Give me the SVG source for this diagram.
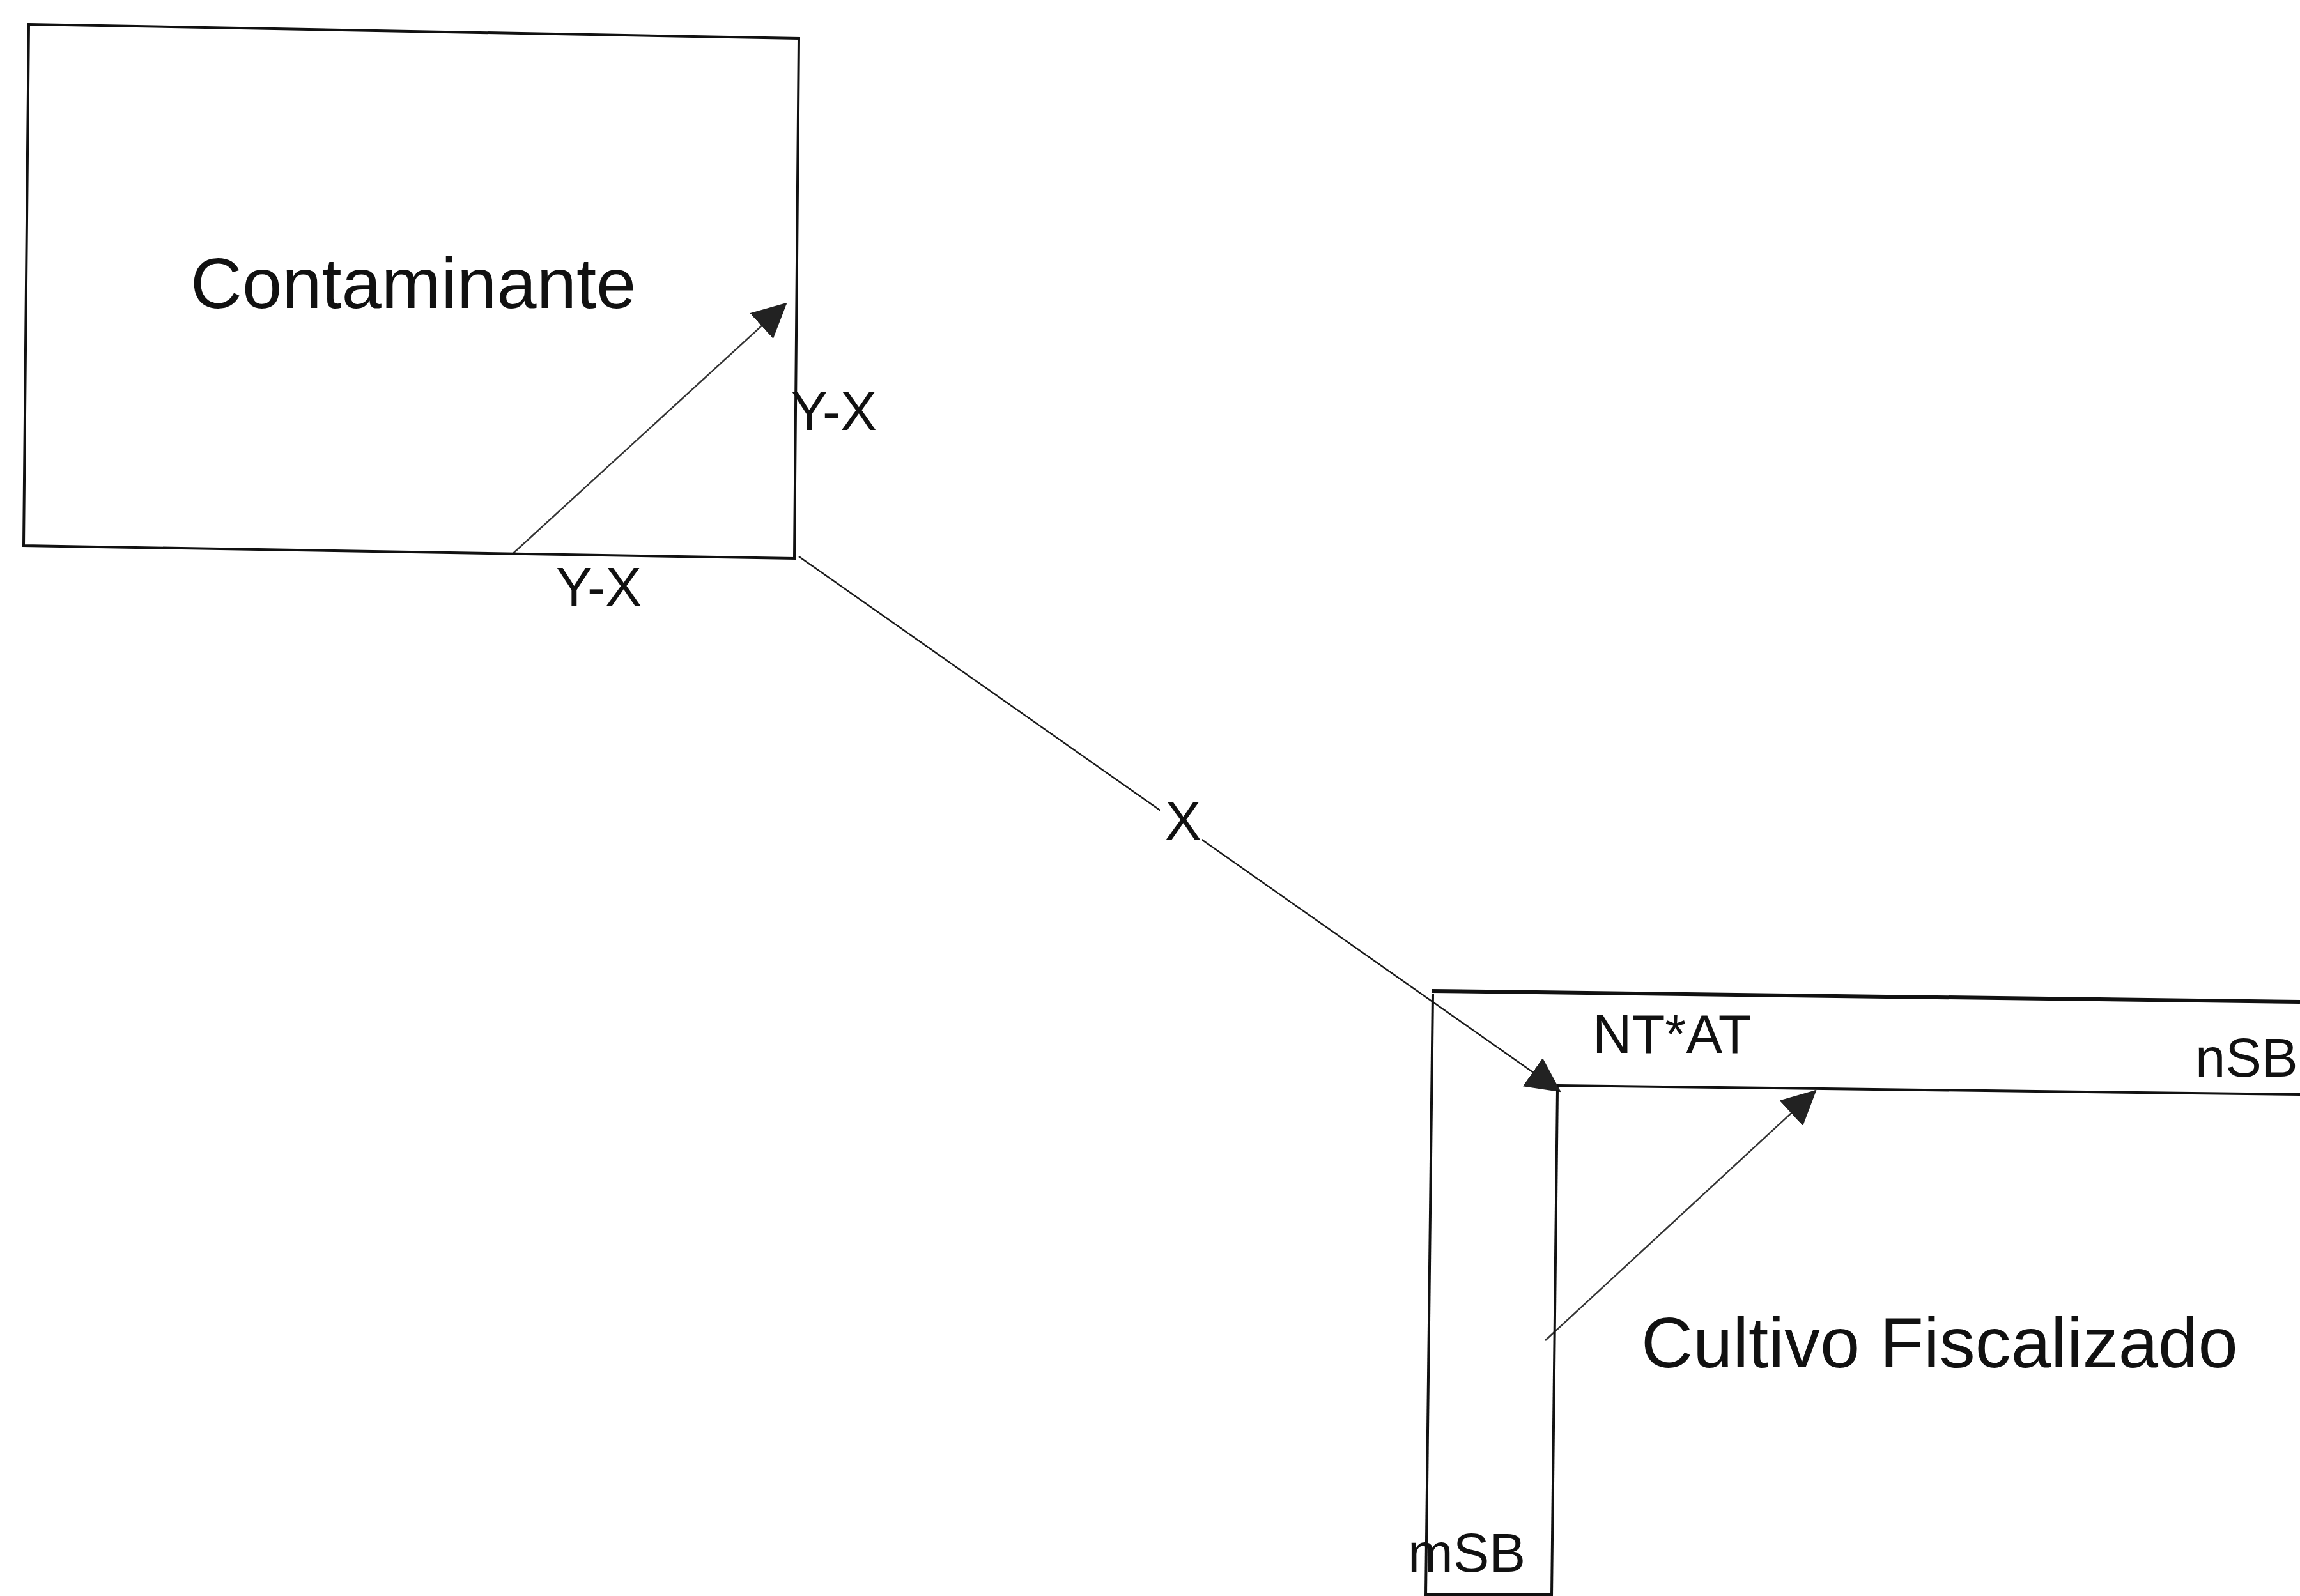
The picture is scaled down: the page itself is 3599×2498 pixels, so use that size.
<svg xmlns="http://www.w3.org/2000/svg" width="3599" height="2498" viewBox="0 0 3599 2498">
<style>
.edge{fill:none;stroke:#111;stroke-width:4;stroke-linejoin:miter}
.thick{fill:none;stroke:#111;stroke-width:6}
.conn{fill:none;stroke:#1a1a1a;stroke-width:2.5}
.inner{fill:none;stroke:#333;stroke-width:2.5}
.big{font-family:"Liberation Sans",Arial,sans-serif;font-size:112px;fill:#111}
.lbl{font-family:"Liberation Sans",Arial,sans-serif;font-size:85px;fill:#111}
</style>
<defs>
<marker id="arrow" markerUnits="userSpaceOnUse" markerWidth="54" markerHeight="54" viewBox="0 0 54 54" refX="52" refY="27" orient="auto">
<path d="M0,0 L54,27 L0,54 Z" fill="#222"/>
</marker>
</defs>
<rect width="3599" height="2498" fill="#fff"/>
<g id="connectors">
<path class="conn" d="M1250,871 L2441,1708" marker-end="url(#arrow)"/>
<rect x="1815" y="1240" width="66" height="82" fill="#fff"/>
<path class="inner" d="M803,866 L1230,475" marker-end="url(#arrow)"/>
<path class="inner" d="M2418,2098 L2841,1707" marker-end="url(#arrow)"/>
</g>
<g id="contaminante">
<path class="edge" d="M45,38 L1250,60 L1243,874 L37,854 Z"/>
<text class="big" x="298" y="482">Contaminante</text>
</g>
<g id="cultivo-fiscalizado">
<path class="thick" d="M2240,1551 L3599,1568"/>
<path class="edge" d="M2242,1556 L2231,2498"/>
<path class="edge" d="M2437,1699 L3599,1713"/>
<path class="edge" d="M2437,1706 L2428,2498"/>
<path class="edge" d="M2231,2496 L2428,2496"/>
<text class="big" x="2568" y="2140">Cultivo Fiscalizado</text>
</g>
<g id="labels">
<text class="lbl" x="1823" y="1314">X</text>
<text class="lbl" x="1238" y="673">Y-X</text>
<text class="lbl" x="870" y="948">Y-X</text>
<text class="lbl" x="2492" y="1648">NT*AT</text>
<text class="lbl" x="3435" y="1685">nSB</text>
<text class="lbl" x="2203" y="2460">mSB</text>
</g>
</svg>
